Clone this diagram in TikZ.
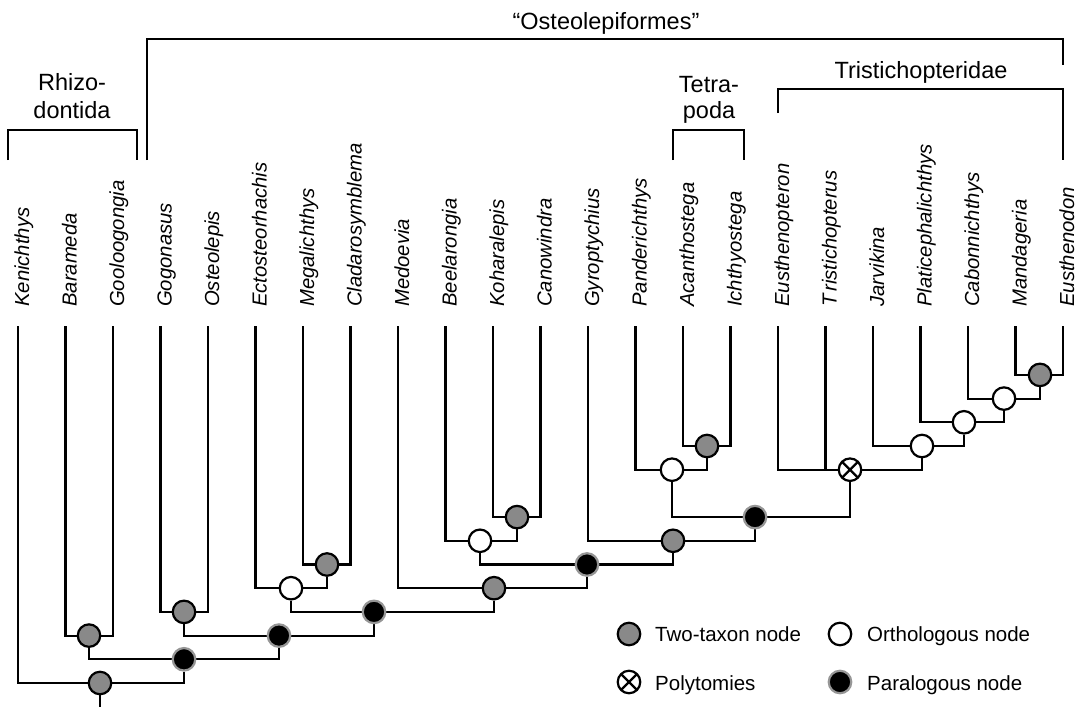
\documentclass[tikz,border=0pt]{standalone}
\usepackage{fontspec}
\setmainfont{Liberation Sans}
\usetikzlibrary{backgrounds}
\definecolor{midgray}{RGB}{137,137,137}
\definecolor{ringgray}{RGB}{150,150,150}
\begin{document}
\begin{tikzpicture}[x=1pt,y=-1pt,
  br/.style={line width=2.5pt},
  edge/.style={line width=2.2pt},
  nd/.style={circle, line width=2.2pt, minimum size=22.5pt, inner sep=0pt, draw=black},
  twotaxon/.style={nd, fill=midgray},
  ortho/.style={nd, fill=white},
  para/.style={nd, fill=black, draw=ringgray},
  poly/.style={nd, fill=white, path picture={\draw[line width=2.2pt] (path picture bounding box.north west) -- (path picture bounding box.south east) (path picture bounding box.north east) -- (path picture bounding box.south west);}},
  taxon/.style={anchor=base west, rotate=90, inner sep=0pt, font=\fontsize{20.3}{24}\selectfont\itshape},
  head/.style={anchor=base, inner sep=0pt, font=\fontsize{23.5}{28}\selectfont},
  legtext/.style={anchor=base west, inner sep=0pt, font=\fontsize{20.5}{24}\selectfont}]
\useasboundingbox (0,0) rectangle (1084,707);

% taxa
\foreach \i/\name in {0/Kenichthys,1/Barameda,2/Gooloogongia,3/Gogonasus,4/Osteolepis,5/Ectosteorhachis,6/Megalichthys,7/Cladarosymblema,8/Medoevia,9/Beelarongia,10/Koharalepis,11/Canowindra,12/Gyroptychius,13/Panderichthys,14/Acanthostega,15/Ichthyostega,16/Eusthenopteron,17/T\hspace{3pt}ristichopterus,18/Jarvikina,19/Platicephalichthys,20/Cabonnichthys,21/Mandageria,22/Eusthenodon}{
  \coordinate (k\i) at ({18+47.5*\i},326);
  \node[taxon] (t\i) at ({29+47.5*\i},307) {\name};
}

% clade headers and brackets
\node[head] (hOst) at (606,29) {“Osteolepiformes”};
\node[head] (hRh1) at (72,90) {Rhizo-};
\node[head] (hRh2) at (72,118) {dontida};
\node[head] (hTe1) at (709,92) {Tetra-};
\node[head] (hTe2) at (709,118) {poda};
\node[head] (hTri) at (921,78) {Tristichopteridae};
\draw[br] (147,160) -- (147,39) -- (1063,39) -- (1063,65);
\draw[br] (8,160) -- (8,130) -- (137,130) -- (137,160);
\draw[br] (673,160) -- (673,130) -- (744,130) -- (744,160);
\draw[br] (778,113) -- (778,89) -- (1063,89) -- (1063,160);

% internal nodes
\node[twotaxon] (root) at (100,683) {};
\coordinate (base) at (100,707);
\node[para] (A) at (184,659.3) {};
\node[twotaxon] (B) at (89,635.6) {};
\node[para] (C) at (279,635.6) {};
\node[twotaxon] (D) at (184,611.9) {};
\node[para] (E) at (374,611.9) {};
\node[ortho] (F) at (291,588.2) {};
\node[twotaxon] (H) at (327,564.5) {};
\node[twotaxon] (G) at (494,588.2) {};
\node[para] (I) at (587,564.5) {};
\node[ortho] (J) at (480,540.8) {};
\node[twotaxon] (Lz) at (517,517.1) {};
\node[twotaxon] (K) at (673,540.8) {};
\node[para] (M) at (755,517.1) {};
\node[ortho] (N) at (672,469.7) {};
\node[twotaxon] (O) at (707,446) {};
\node[poly] (P) at (850,469.7) {};
\node[ortho] (Q) at (922,446) {};
\node[ortho] (R) at (964,422.3) {};
\node[ortho] (S) at (1004,398.6) {};
\node[twotaxon] (T) at (1040,374.9) {};

% branches
\begin{pgfonlayer}{background}
\draw[edge] (k0) |- (root);
\draw[edge] (A) |- (root);
\draw[edge] (root) -- (base);
\draw[edge] (B) |- (A);
\draw[edge] (C) |- (A);
\draw[edge] (k1) |- (B);
\draw[edge] (k2) |- (B);
\draw[edge] (D) |- (C);
\draw[edge] (E) |- (C);
\draw[edge] (k3) |- (D);
\draw[edge] (k4) |- (D);
\draw[edge] (F) |- (E);
\draw[edge] (G) |- (E);
\draw[edge] (k5) |- (F);
\draw[edge] (H) |- (F);
\draw[edge] (k6) |- (H);
\draw[edge] (k7) |- (H);
\draw[edge] (k8) |- (G);
\draw[edge] (I) |- (G);
\draw[edge] (J) |- (I);
\draw[edge] (K) |- (I);
\draw[edge] (k9) |- (J);
\draw[edge] (Lz) |- (J);
\draw[edge] (k10) |- (Lz);
\draw[edge] (k11) |- (Lz);
\draw[edge] (k12) |- (K);
\draw[edge] (M) |- (K);
\draw[edge] (N) |- (M);
\draw[edge] (P) |- (M);
\draw[edge] (k13) |- (N);
\draw[edge] (O) |- (N);
\draw[edge] (k14) |- (O);
\draw[edge] (k15) |- (O);
\draw[edge] (k16) |- (P);
\draw[edge] (k17) |- (P);
\draw[edge] (Q) |- (P);
\draw[edge] (k18) |- (Q);
\draw[edge] (R) |- (Q);
\draw[edge] (k19) |- (R);
\draw[edge] (S) |- (R);
\draw[edge] (k20) |- (S);
\draw[edge] (T) |- (S);
\draw[edge] (k21) |- (T);
\draw[edge] (k22) |- (T);
\end{pgfonlayer}

% legend
\node[twotaxon] (lg1) at (629,634) {};
\node[legtext] (lt1) at (655,641) {Two-taxon node};
\node[ortho] (lg2) at (840,634) {};
\node[legtext] (lt2) at (867,641) {Orthologous node};
\node[poly] (lg3) at (629,682) {};
\node[legtext] (lt3) at (655,690.5) {Polytomies};
\node[para] (lg4) at (840,682) {};
\node[legtext] (lt4) at (867,690.5) {Paralogous node};
\end{tikzpicture}
\end{document}
